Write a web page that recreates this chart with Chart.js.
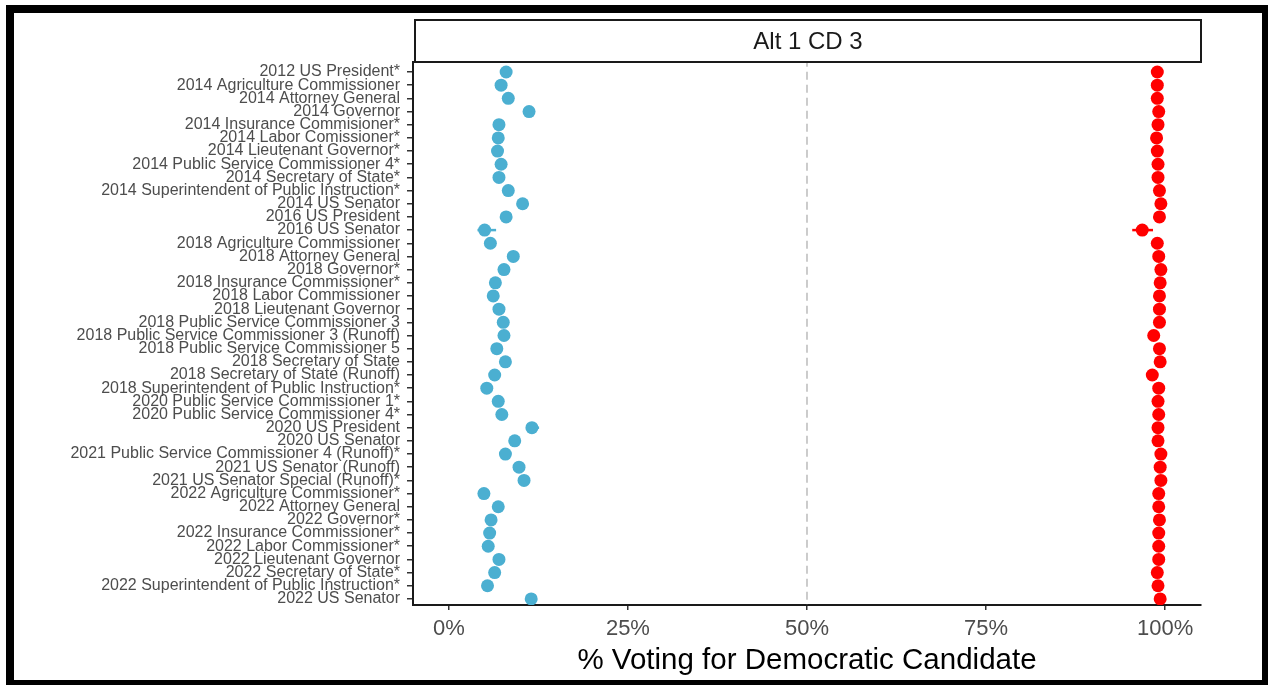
<!DOCTYPE html>
<html>
<head>
<meta charset="utf-8">
<script src="https://cdn.jsdelivr.net/npm/chart.js@4.4.1/dist/chart.umd.min.js"></script>
<style>
  body { margin: 0; background: #fff; overflow: hidden; }
  #wrap { position: relative; width: 1268px; height: 685px; }
  #frame {
    position: absolute; left: 6px; top: 5px; width: 1264px; height: 683px;
    box-sizing: border-box; border: 8px solid #000; pointer-events: none;
  }
  canvas { position: absolute; left: 0; top: 0; }
</style>
</head>
<body>
<div id="wrap">
  <canvas id="chart" width="1268" height="685"></canvas>
  <div id="frame"></div>
</div>
<script>
// Contests (top to bottom)
const contests = [
  '2012 US President*',
  '2014 Agriculture Commissioner',
  '2014 Attorney General',
  '2014 Governor',
  '2014 Insurance Commisioner*',
  '2014 Labor Comissioner*',
  '2014 Lieutenant Governor*',
  '2014 Public Service Commissioner 4*',
  '2014 Secretary of State*',
  '2014 Superintendent of Public Instruction*',
  '2014 US Senator',
  '2016 US President',
  '2016 US Senator',
  '2018 Agriculture Commissioner',
  '2018 Attorney General',
  '2018 Governor*',
  '2018 Insurance Commissioner*',
  '2018 Labor Commissioner',
  '2018 Lieutenant Governor',
  '2018 Public Service Commissioner 3',
  '2018 Public Service Commissioner 3 (Runoff)',
  '2018 Public Service Commissioner 5',
  '2018 Secretary of State',
  '2018 Secretary of State (Runoff)',
  '2018 Superintendent of Public Instruction*',
  '2020 Public Service Commissioner 1*',
  '2020 Public Service Commissioner 4*',
  '2020 US President',
  '2020 US Senator',
  '2021 Public Service Commissioner 4 (Runoff)*',
  '2021 US Senator (Runoff)',
  '2021 US Senator Special (Runoff)*',
  '2022 Agriculture Commissioner*',
  '2022 Attorney General',
  '2022 Governor*',
  '2022 Insurance Commissioner*',
  '2022 Labor Commissioner*',
  '2022 Lieutenant Governor',
  '2022 Secretary of State*',
  '2022 Superintendent of Public Instruction*',
  '2022 US Senator'
];

// % voting for Democratic candidate, blue group
const blueShare = [8.0, 7.3, 8.3, 11.2, 7.0, 6.9, 6.8, 7.3, 7.0, 8.3, 10.3, 8.0, 5.0, 5.8, 9.0, 7.7, 6.5,
  6.2, 7.0, 7.6, 7.7, 6.7, 7.9, 6.4, 5.3, 6.9, 7.4, 11.6, 9.2, 7.9, 9.8, 10.5, 4.9, 6.9, 5.9, 5.7, 5.5,
  7.0, 6.4, 5.4, 11.5];

// % voting for Democratic candidate, red group
const redShare = [98.9, 98.9, 98.9, 99.1, 99.0, 98.8, 98.9, 99.0, 99.0, 99.2, 99.4, 99.2, 96.8, 98.9, 99.1,
  99.4, 99.3, 99.2, 99.2, 99.2, 98.4, 99.2, 99.3, 98.2, 99.1, 99.0, 99.1, 99.0, 99.0, 99.4, 99.3, 99.4,
  99.1, 99.1, 99.2, 99.1, 99.1, 99.1, 98.9, 99.0, 99.3];

// visible interval ends (null = hidden behind the dot)
const blueLow = contests.map(() => null);
const blueHigh = contests.map(() => null);
const redLow = contests.map(() => null);
const redHigh = contests.map(() => null);
blueLow[12] = 4.0; blueHigh[12] = 6.6;
blueLow[27] = 11.0; blueHigh[27] = 12.6;
redLow[12] = 95.4; redHigh[12] = 98.3;

const xTicks = [0, 25, 50, 75, 100];
const refLine = 50;
const panelTitle = 'Alt 1 CD 3';

const BLUE = '#4bafd1';
const RED = '#ff0000';
const FONT = '"Liberation Sans", Arial, sans-serif';

// error bars drawn through the chart's scales
const errorBars = {
  id: 'errorBars',
  beforeDatasetsDraw(chart) {
    const {ctx, scales: {x, y}} = chart;
    const sets = [[blueLow, blueHigh, BLUE], [redLow, redHigh, RED]];
    ctx.save();
    ctx.lineWidth = 2.5;
    sets.forEach(([lo, hi, color]) => {
      lo.forEach((v, i) => {
        if (v === null) return;
        const py = y.getPixelForValue(i + 1);
        ctx.strokeStyle = color;
        ctx.beginPath();
        ctx.moveTo(x.getPixelForValue(v), py);
        ctx.lineTo(x.getPixelForValue(hi[i]), py);
        ctx.stroke();
      });
    });
    ctx.restore();
  }
};

// facet strip above the panel
const strip = {
  id: 'strip',
  afterDraw(chart) {
    const {ctx, chartArea: a} = chart;
    const top = 20, h = a.top - top;
    ctx.save();
    ctx.fillStyle = '#fff';
    ctx.fillRect(a.left + 2, top, a.right - a.left - 2, h);
    ctx.strokeStyle = '#1a1a1a';
    ctx.lineWidth = 2;
    ctx.strokeRect(a.left + 2, top, a.right - a.left - 2, h);
    ctx.fillStyle = '#1a1a1a';
    ctx.font = '24px ' + FONT;
    ctx.textAlign = 'center';
    ctx.textBaseline = 'middle';
    ctx.fillText(panelTitle, (a.left + a.right) / 2 + 1, top + h / 2 + 1);
    ctx.restore();
  }
};

const ctx = document.getElementById('chart').getContext('2d');
const chart = new Chart(ctx, {
  type: 'scatter',
  data: {
    datasets: [
      {
        data: blueShare.map((v, i) => ({x: v, y: i + 1})),
        backgroundColor: BLUE, borderWidth: 0, pointRadius: 6.5
      },
      {
        data: redShare.map((v, i) => ({x: v, y: i + 1})),
        backgroundColor: RED, borderWidth: 0, pointRadius: 6.5
      },
      {
        type: 'line',
        data: [{x: refLine, y: 0}, {x: refLine, y: contests.length + 1}],
        borderColor: '#aaaaaa', borderWidth: 1.2, borderDash: [8, 5],
        pointRadius: 0, order: 10
      }
    ]
  },
  plugins: [errorBars, strip],
  options: {
    responsive: false,
    animation: false,
    devicePixelRatio: 1,
    layout: {padding: {top: 62, right: 67, bottom: 0, left: 0}},
    plugins: {legend: {display: false}, tooltip: {enabled: false}},
    scales: {
      x: {
        type: 'linear',
        min: -5, max: 105,
        afterBuildTicks: s => { s.ticks = xTicks.map(v => ({value: v})); },
        afterFit: s => { s.height = 80; },
        ticks: {
          callback: v => v + '%',
          color: '#4d4d4d',
          font: {size: 22, family: FONT},
          padding: 6,
          maxRotation: 0
        },
        grid: {drawOnChartArea: false, color: '#333', lineWidth: 1.5, tickLength: 5},
        border: {color: '#1a1a1a', width: 2},
        title: {
          display: true,
          text: '% Voting for Democratic Candidate',
          color: '#000',
          font: {size: 29.5, family: FONT},
          padding: {top: 0, bottom: 6}
        }
      },
      y: {
        type: 'linear',
        reverse: true,
        min: 0.24, max: 41.46,
        afterBuildTicks: s => { s.ticks = contests.map((_, i) => ({value: i + 1})); },
        afterFit: s => { s.width = 413; },
        ticks: {
          autoSkip: false,
          callback: v => contests[v - 1],
          color: '#4d4d4d',
          font: {size: 16, family: FONT},
          padding: 7
        },
        grid: {drawOnChartArea: false, color: '#333', lineWidth: 1.5, tickLength: 6},
        border: {color: '#1a1a1a', width: 2}
      }
    }
  }
});
</script>
</body>
</html>
